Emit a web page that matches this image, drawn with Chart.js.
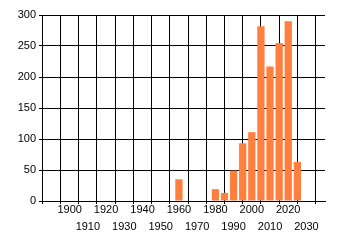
<!DOCTYPE html>
<html>
<head>
<meta charset="utf-8">
<script src="https://cdn.jsdelivr.net/npm/chart.js@4/dist/chart.umd.min.js"></script>
<style>
html,body{margin:0;padding:0;background:#fff;}
#c{display:block;}
</style>
</head>
<body>
<canvas id="c" width="340" height="245"></canvas>
<script>
const years = [1960, 1980, 1985, 1990, 1995, 2000, 2005, 2010, 2015, 2020, 2025];
const counts = [35, 19, 13, 49, 93, 111, 282, 217, 255, 290, 63];
const xTicks = [1890, 1900, 1910, 1920, 1930, 1940, 1950, 1960, 1970, 1980, 1990, 2000, 2010, 2020, 2030];
const xMin = 1890, xMax = 2035;
const yMin = 0, yMax = 300, yStep = 50;

const font = {family: '"Liberation Sans", Arial, sans-serif', size: 11, lineHeight: 1.5};

new Chart(document.getElementById('c'), {
  type: 'bar',
  data: {
    datasets: [{
      data: years.map((y, i) => ({x: y, y: counts[i]})),
      backgroundColor: '#FF7F3F',
      borderWidth: 0,
      barPercentage: 0.8,
      categoryPercentage: 1
    }]
  },
  options: {
    responsive: false,
    animation: false,
    devicePixelRatio: 1,
    layout: {padding: {top: 15, right: 15, left: 0, bottom: 0}},
    plugins: {legend: {display: false}, tooltip: {enabled: false}},
    scales: {
      x: {
        type: 'linear',
        min: xMin, max: xMax,
        afterBuildTicks: s => { s.ticks = xTicks.map(v => ({value: v})); },
        afterFit: s => { s.height = 44; },
        ticks: {
          autoSkip: false,
          maxRotation: 0,
          color: '#000',
          font: font,
          padding: -2,
          callback: v => {
            if (v < 1900) return '';
            return ((v - 1900) / 10) % 2 === 0 ? String(v) : ['', String(v)];
          }
        },
        grid: {color: '#000', lineWidth: 1, tickLength: 3, tickColor: '#000'},
        border: {color: '#000', width: 1}
      },
      y: {
        min: yMin, max: yMax,
        afterFit: s => { s.width = 42; },
        ticks: {stepSize: yStep, color: '#000', font: font, padding: 3},
        grid: {color: '#000', lineWidth: 1, tickLength: 3, tickColor: '#000'},
        border: {color: '#000', width: 1}
      }
    }
  }
});
</script>
</body>
</html>
